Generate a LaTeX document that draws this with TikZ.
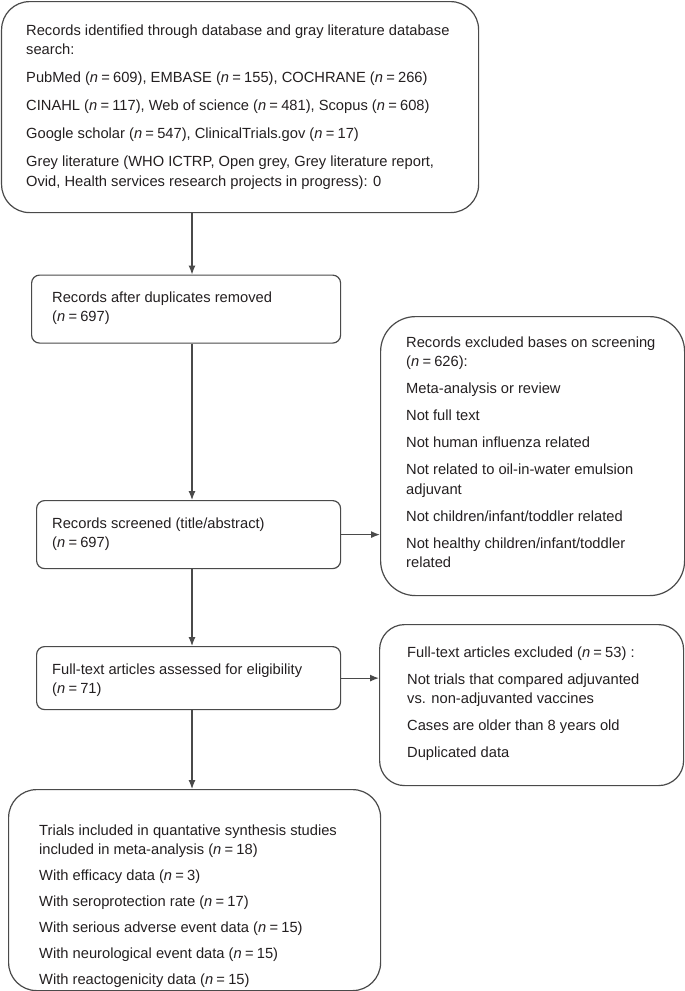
\documentclass[tikz,border=0pt]{standalone}
\usepackage{fontspec}
\setmainfont{Liberation Sans}
\usetikzlibrary{arrows.meta}
\definecolor{linec}{HTML}{4A4A4A}
\definecolor{textc}{HTML}{231F20}
\newcommand{\nn}[1]{(\textit{n}\hspace{0.22em}=\hspace{0.22em}#1)}
\begin{document}
\begin{tikzpicture}[x=1pt,y=-1pt,
  box/.style={draw=linec, line width=1.2pt, rectangle, inner sep=0pt, anchor=north west, fill=none},
  txt/.style={inner sep=0pt, anchor=north west, align=left, text=textc, font=\fontsize{14.7}{19.5}\selectfont},
  arr/.style={draw=linec, line width=1.2pt, -{Latex[length=9pt,width=7pt]}}]
\useasboundingbox (0,0) rectangle (685,991);
% boxes
\node[box, rounded corners=28pt, minimum width=477pt, minimum height=211pt] (b1) at (1,1) {};
\node[box, rounded corners=8pt, minimum width=309pt, minimum height=68pt] (b2) at (31,274.5) {};
\node[box, rounded corners=8pt, minimum width=304pt, minimum height=68pt] (b3) at (36,500) {};
\node[box, rounded corners=8pt, minimum width=304pt, minimum height=63pt] (b4) at (36,646) {};
\node[box, rounded corners=35pt, minimum width=304pt, minimum height=279pt] (r1) at (380,316) {};
\node[box, rounded corners=25pt, minimum width=304pt, minimum height=161pt] (r2) at (379,624) {};
\node[box, rounded corners=28pt, minimum width=372pt, minimum height=201pt] (b5) at (8,789) {};
% texts
\node[txt] (t1) at (26,21.35) {\strut Records identified through database and gray literature database\\
search:\\[8.5pt]
PubMed \nn{609}, EMBASE \nn{155}, COCHRANE \nn{266}\\[8.5pt]
CINAHL \nn{117}, Web of science \nn{481}, Scopus \nn{608}\\[8.5pt]
Google scholar \nn{547}, ClinicalTrials.gov \nn{17}\\[8.5pt]
Grey literature (WHO ICTRP, Open grey, Grey literature report,\\
Ovid, Health services research projects in progress): 0};
\node[txt] (t2) at (52,288.35) {\strut Records after duplicates removed\\ \nn{697}};
\node[txt] (t3) at (52,514.35) {\strut Records screened (title/abstract)\\ \nn{697}};
\node[txt] (t4) at (52,660.35) {\strut Full-text articles assessed for eligibility\\ \nn{71}};
\node[txt] (tr1) at (406,333.35) {\strut Records excluded bases on screening\\
\nn{626}:\\[7.5pt]
Meta-analysis or review\\[7.5pt]
Not full text\\[7.5pt]
Not human influenza related\\[7.5pt]
Not related to oil-in-water emulsion\\
adjuvant\\[7.5pt]
Not children/infant/toddler related\\[7.5pt]
Not healthy children/infant/toddler\\
related};
\node[txt] (tr2) at (407,643.35) {\strut Full-text articles excluded \nn{53} :\\[7.5pt]
Not trials that compared adjuvanted\\
vs. non-adjuvanted vaccines\\[7.5pt]
Cases are older than 8 years old\\[7.5pt]
Duplicated data};
\node[txt] (t5) at (39,821.35) {\strut Trials included in quantative synthesis studies\\
included in meta-analysis \nn{18}\\[6.5pt]
With efficacy data \nn{3}\\[6.5pt]
With seroprotection rate \nn{17}\\[6.5pt]
With serious adverse event data \nn{15}\\[6.5pt]
With neurological event data \nn{15}\\[6.5pt]
With reactogenicity data \nn{15}};
% connectors
\coordinate (ax) at (192,0);
\draw[arr] (b1.south -| ax) -- (b2.north -| ax);
\draw[arr] (b2.south -| ax) -- (b3.north -| ax);
\draw[arr] (b3.south -| ax) -- (b4.north -| ax);
\draw[arr] (b4.south -| ax) -- (b5.north -| ax);
\draw[arr] (b3.east) -- (b3.east -| r1.west);
\draw[arr] (b4.east) -- (b4.east -| r2.west);
\end{tikzpicture}
\end{document}
